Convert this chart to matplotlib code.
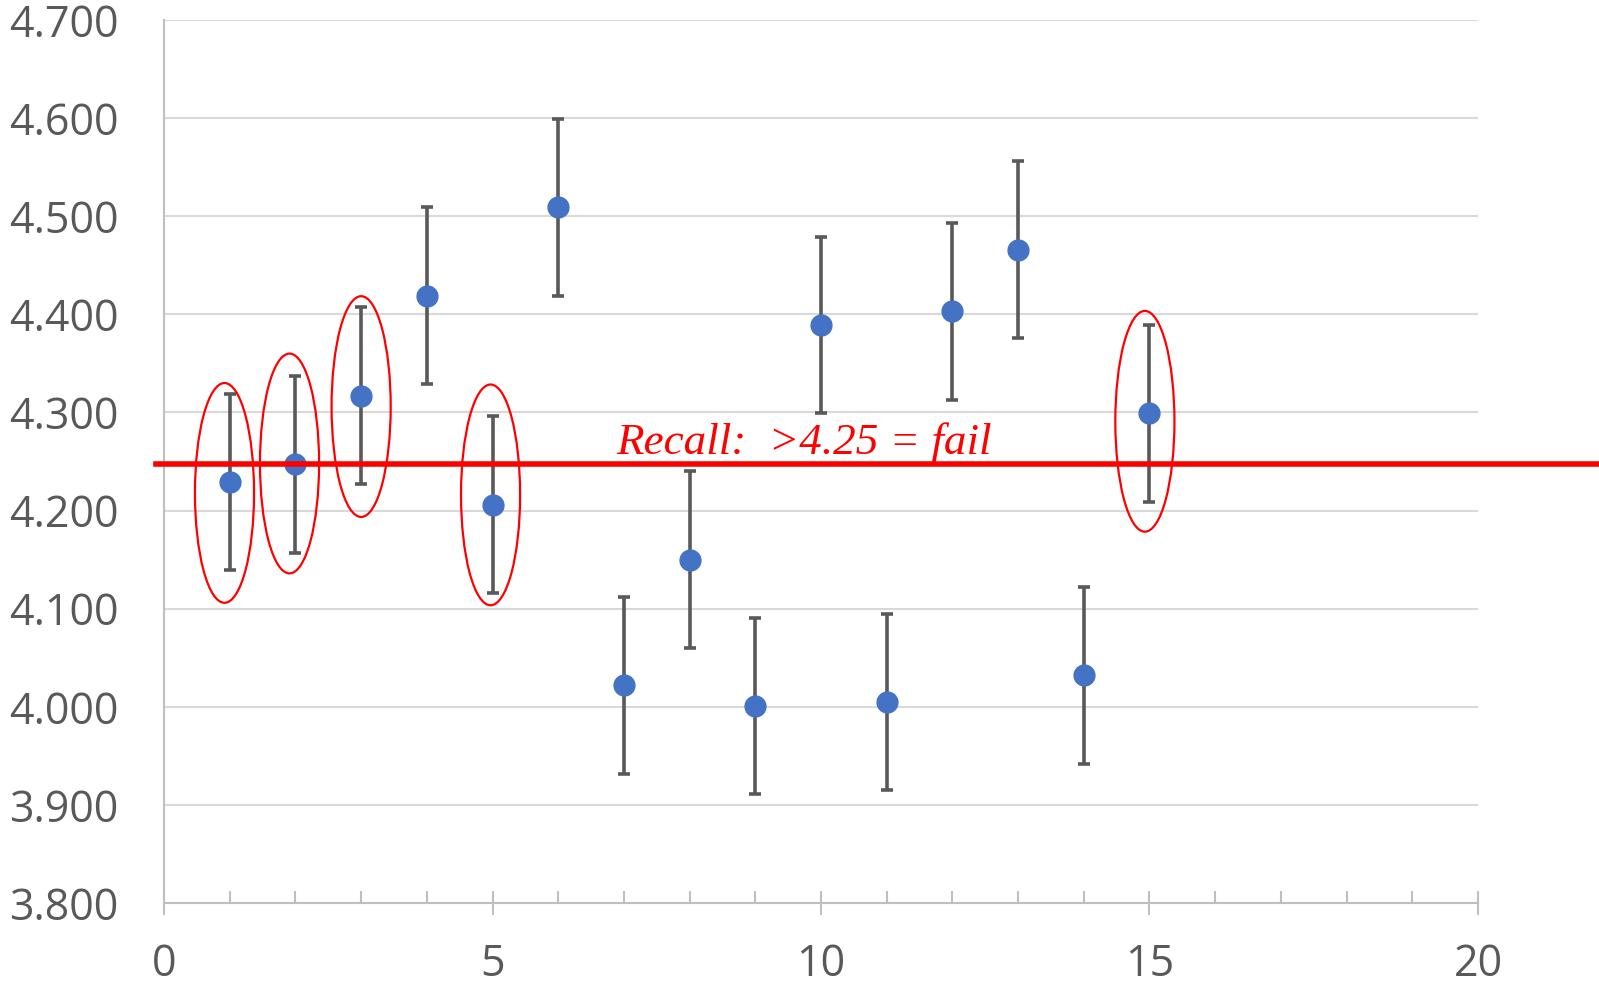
import matplotlib.pyplot as plt
from matplotlib.patches import Ellipse
from matplotlib.ticker import MultipleLocator, FormatStrFormatter

# sample number and measured value
samples = [1, 2, 3, 4, 5, 6, 7, 8, 9, 10, 11, 12, 13, 14, 15]
values = [4.229, 4.247, 4.317, 4.419, 4.206, 4.509, 4.022, 4.150,
          4.001, 4.389, 4.005, 4.403, 4.466, 4.032, 4.299]
errors = [0.09] * len(samples)

limit = 4.247
note = "Recall:  >4.25 = fail"

# circled samples: (x centre, y centre, height)
circled_x = [0.92, 1.91, 3.0, 4.97, 14.93]
circled_y = [4.218, 4.248, 4.306, 4.216, 4.291]
circled_h = [0.224, 0.224, 0.225, 0.225, 0.225]

plt.rcParams['font.family'] = ['Open Sans', 'DejaVu Sans']

fig = plt.figure(figsize=(15.99, 9.85), dpi=100)
ax = fig.add_axes([0.1026, 0.0832, 0.8217, 0.8965])

ax.errorbar(samples, values, yerr=errors, fmt='o', color='#4472C4',
            markersize=15, ecolor='#595959', elinewidth=2.6,
            capsize=4.5, capthick=2.6, zorder=3)

# the fail limit runs on past the plot area to the edge of the figure
ax.plot([-0.12, 23], [limit, limit], color='#FF0000', lw=4,
        clip_on=False, zorder=4)
ax.text(6.88, 4.258, note, color='#FF0000', fontsize=32.5,
        family='Liberation Serif', style='italic', va='baseline', zorder=5)

for cx, cy, h in zip(circled_x, circled_y, circled_h):
    ax.add_patch(Ellipse((cx, cy), 0.9, h, fill=False, edgecolor='#FF0000',
                         lw=1.6, zorder=5))

ax.set_xlim(0, 20)
ax.set_ylim(3.8, 4.7)
ax.xaxis.set_major_locator(MultipleLocator(5))
ax.xaxis.set_minor_locator(MultipleLocator(1))
ax.yaxis.set_major_locator(MultipleLocator(0.1))
ax.yaxis.set_major_formatter(FormatStrFormatter('%.3f'))

ax.grid(axis='y', color='#D9D9D9', lw=1.5, zorder=0)
for side in ['top', 'right']:
    ax.spines[side].set_visible(False)
for side in ['left', 'bottom']:
    ax.spines[side].set_color('#BFBFBF')
    ax.spines[side].set_linewidth(1.5)

ax.tick_params(axis='y', length=0, pad=33, labelsize=31, labelcolor='#595959')
ax.tick_params(axis='x', which='major', direction='inout', length=17,
               width=1.5, color='#BFBFBF', pad=20, labelsize=31,
               labelcolor='#595959')
ax.tick_params(axis='x', which='minor', direction='in', length=8.5,
               width=1.5, color='#BFBFBF')

fig.savefig('out.png', dpi=100)
